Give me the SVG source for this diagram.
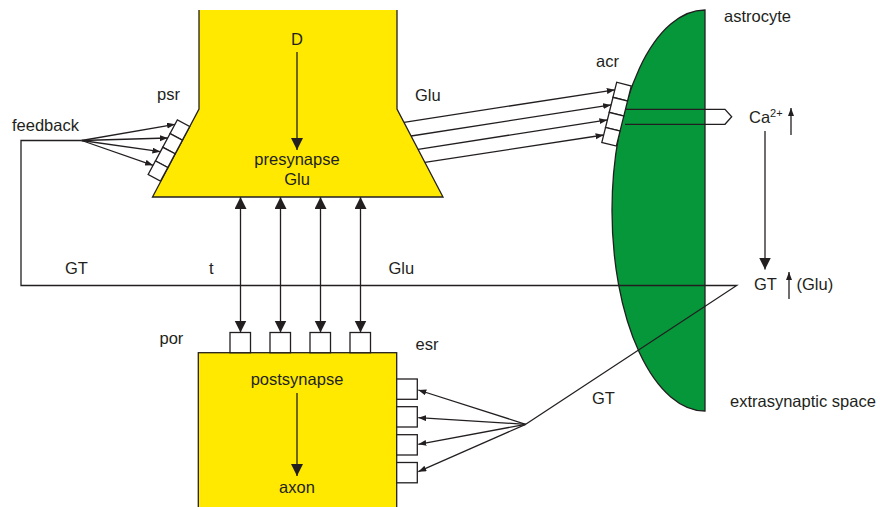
<svg xmlns="http://www.w3.org/2000/svg" width="880" height="507" viewBox="0 0 880 507">
<style>
text{font-family:"Liberation Sans",Arial,sans-serif;font-size:16.5px;fill:#231f20}
.c{text-anchor:middle}
.ln{fill:none;stroke:#231f20;stroke-width:1.3}
.bx{fill:#fff;stroke:#231f20;stroke-width:1.3}
.sa{fill:none;stroke:#231f20;stroke-width:1.3;marker-end:url(#sm)}
.da{fill:none;stroke:#231f20;stroke-width:1.3;marker-start:url(#big);marker-end:url(#big)}
</style>
<defs>
<marker id="sm" markerUnits="userSpaceOnUse" markerWidth="9" markerHeight="7" refX="8" refY="3" orient="auto"><path d="M0,0 L8,3 L0,6 z" fill="#231f20"/></marker>
<marker id="big" markerUnits="userSpaceOnUse" markerWidth="13" markerHeight="13" refX="12" refY="6" orient="auto-start-reverse"><path d="M0,0 L12,6 L0,12 z" fill="#231f20"/></marker>
</defs>
<rect width="880" height="507" fill="#fff"/>

<g id="astrocyte">
<path d="M705,10 A93,200.5 0 0 0 705,411 Z" fill="#05973a" stroke="#231f20" stroke-width="1.3"/>
<text x="724" y="22">astrocyte</text>
</g>

<g id="presynapse">
<path d="M199,10 V109 L152.5,197 H443 L397,109 V10" fill="#ffe900" stroke="none"/>
<path d="M199,10 V109 L152.5,197 H443 L397,109 V10" class="ln"/>
<text x="297" y="45" class="c">D</text>
<line x1="297" y1="52" x2="297" y2="150" class="ln" marker-end="url(#big)"/>
<text x="297" y="165" class="c">presynapse</text>
<text x="297" y="185" class="c">Glu</text>
</g>

<g id="psr">
<g transform="translate(189.7,126.5) rotate(118.1)">
<rect x="0" y="0" width="15.5" height="14" class="bx"/>
<rect x="15.5" y="0" width="15.5" height="14" class="bx"/>
<rect x="31" y="0" width="15.5" height="14" class="bx"/>
<rect x="46.5" y="0" width="15.5" height="14" class="bx"/>
</g>
<text x="157" y="100">psr</text>
</g>

<g id="acr">
<g transform="translate(616.7,82.3) rotate(13.9)">
<rect x="0" y="0" width="15" height="15.5" class="bx"/>
<rect x="0" y="15.5" width="15" height="15.5" class="bx"/>
<rect x="0" y="31" width="15" height="15.5" class="bx"/>
<rect x="0" y="46.5" width="15" height="15.5" class="bx"/>
</g>
<text x="596" y="67">acr</text>
</g>

<g id="postsynapse">
<rect x="198.3" y="352.7" width="198.4" height="160" fill="#ffe900" stroke="#231f20" stroke-width="1.3"/>
<text x="297" y="385" class="c">postsynapse</text>
<line x1="297" y1="393" x2="297" y2="476" class="ln" marker-end="url(#big)"/>
<text x="297" y="493" class="c">axon</text>
</g>

<g id="por">
<rect x="230" y="332.5" width="20.5" height="20.2" class="bx"/>
<rect x="270" y="332.5" width="20.5" height="20.2" class="bx"/>
<rect x="310" y="332.5" width="20.5" height="20.2" class="bx"/>
<rect x="350" y="332.5" width="20.5" height="20.2" class="bx"/>
<text x="159.5" y="343.5">por</text>
</g>

<g id="esr">
<rect x="396.7" y="379" width="20.6" height="20.3" class="bx"/>
<rect x="396.7" y="406.7" width="20.6" height="20.3" class="bx"/>
<rect x="396.7" y="434.7" width="20.6" height="20.3" class="bx"/>
<rect x="396.7" y="462.5" width="20.6" height="20.3" class="bx"/>
<text x="415.5" y="350">esr</text>
</g>

<g id="connectors">
<!-- feedback to psr -->
<line x1="81.7" y1="140.5" x2="175" y2="124.3" class="sa"/>
<line x1="81.7" y1="140.5" x2="167.7" y2="138" class="sa"/>
<line x1="81.7" y1="140.5" x2="160.4" y2="151.7" class="sa"/>
<line x1="81.7" y1="140.5" x2="153.1" y2="165.3" class="sa"/>
<!-- Glu to acr -->
<line x1="404" y1="122.3" x2="614.8" y2="89.8" class="sa"/>
<line x1="411.1" y1="136" x2="611.1" y2="104.9" class="sa"/>
<line x1="418.1" y1="149.3" x2="607.4" y2="119.9" class="sa"/>
<line x1="424.9" y1="162.3" x2="603.6" y2="135" class="sa"/>
<!-- Ca channel -->
<path d="M625,109.3 H725 L731.7,116.8 L725,124.3 H625" class="ln"/>
<!-- Ca to GT -->
<line x1="765" y1="131" x2="765" y2="269.5" class="ln" marker-end="url(#big)"/>
<!-- vertical double arrows -->
<line x1="240.5" y1="197" x2="240.5" y2="332.5" class="da"/>
<line x1="280.5" y1="197" x2="280.5" y2="332.5" class="da"/>
<line x1="320.5" y1="197" x2="320.5" y2="332.5" class="da"/>
<line x1="360.5" y1="197" x2="360.5" y2="332.5" class="da"/>
<!-- feedback loop / GT -->
<path d="M81.7,140.5 H21 V285.5 H736.7 L525.7,424.3" class="ln"/>
<!-- GT to esr -->
<line x1="525.7" y1="424.3" x2="418.3" y2="390" class="sa"/>
<line x1="525.7" y1="424.3" x2="418.3" y2="417.7" class="sa"/>
<line x1="525.7" y1="424.3" x2="418.3" y2="444.3" class="sa"/>
<line x1="525.7" y1="424.3" x2="418.3" y2="471.7" class="sa"/>
<!-- up arrows -->
<line x1="791" y1="135" x2="791" y2="108" class="sa"/>
<line x1="789" y1="299" x2="789" y2="272" class="sa"/>
</g>

<g id="labels">
<text x="12" y="131">feedback</text>
<text x="415" y="101">Glu</text>
<text x="749" y="123.3">Ca<tspan font-size="11" dy="-6.5">2+</tspan></text>
<text x="65" y="274">GT</text>
<text x="209" y="274">t</text>
<text x="388.5" y="274">Glu</text>
<text x="754" y="289.5">GT</text>
<text x="796.5" y="289.5">(Glu)</text>
<text x="592" y="404">GT</text>
<text x="730" y="407">extrasynaptic space</text>
</g>
</svg>
